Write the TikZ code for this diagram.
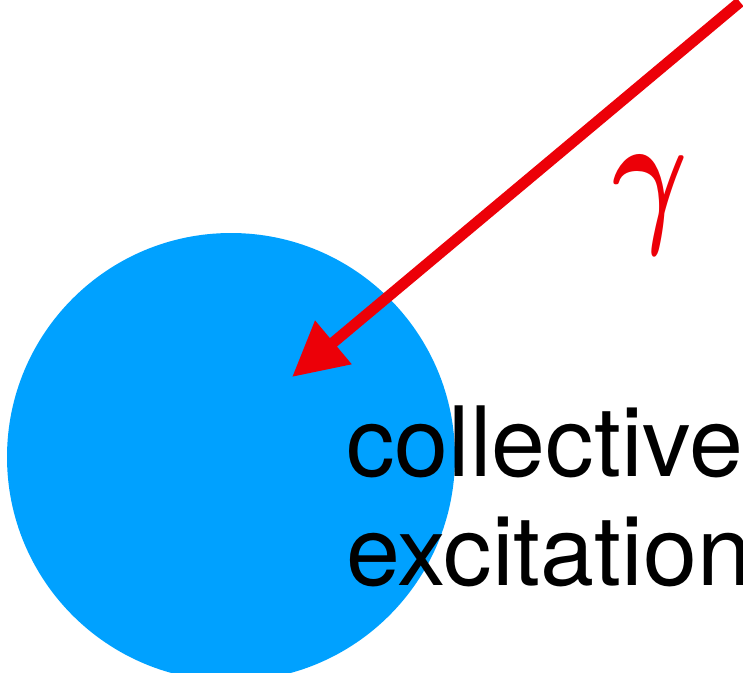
\documentclass[tikz,border=0pt]{standalone}
\usepackage{bm}
\usepackage{fontspec}
\setmainfont{TeX Gyre Heros}
\usetikzlibrary{arrows.meta}
\definecolor{blobblue}{RGB}{0,161,255}
\definecolor{photonred}{RGB}{236,0,8}
\begin{document}
\begin{tikzpicture}[x=1pt,y=-1pt,
  blobstyle/.style={circle,fill=blobblue,draw=none,minimum size=448pt,inner sep=0pt},
  photon/.style={draw=photonred,line width=11pt,-{Triangle[length=54pt,width=54pt]}},
  labeltext/.style={font=\fontsize{97pt}{109pt}\selectfont,align=left,inner sep=0pt,anchor=base west}]
\useasboundingbox (0,0) rectangle (743,672);
\node[blobstyle] (blob) at (231,457) {};
\coordinate (src) at (740,2);
\coordinate (hit) at (292,377);
\draw[photon] (src) -- (hit);
\node[text=photonred,inner sep=0pt] (gamma) at (650,205) {\scalebox{11.6}[15.5]{$\bm{\gamma}$}};
\node[labeltext] (lab) at (346,585) {collective\\excitation};
\end{tikzpicture}
\end{document}
